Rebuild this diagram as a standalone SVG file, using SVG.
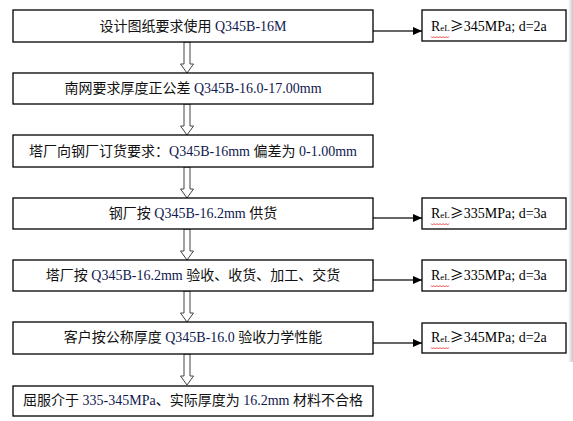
<svg xmlns="http://www.w3.org/2000/svg" width="573" height="421" viewBox="0 0 573 421">
<style>
.box{fill:#fff;stroke:#000;stroke-width:1.3}
.t{font-family:"Noto Sans CJK SC","Noto Sans",sans-serif;font-size:14px;fill:#111}
.l{font-family:"Liberation Serif","Times New Roman",serif;font-size:14px;fill:#10184e}
.r{font-family:"Liberation Serif","Times New Roman",serif;font-size:14px;fill:#000}
.ge{font-family:"Noto Sans CJK SC",sans-serif;font-size:14px}
.sub{font-size:9px}
.conn{stroke:#333;stroke-width:1.3;fill:none}
.hollow{fill:#fff;stroke:#444;stroke-width:1}
.wave{stroke:#e02020;stroke-width:0.8;fill:none}
</style>
<defs>
<marker id="ah" markerWidth="10" markerHeight="8" refX="9" refY="4" orient="auto" markerUnits="userSpaceOnUse">
<path d="M0,0 L9,4 L0,8 Z" fill="#000"/>
</marker>
<linearGradient id="sh" x1="0" x2="1" y1="0" y2="0">
<stop offset="0" stop-color="#fff"/>
<stop offset="1" stop-color="#c8c8c8"/>
</linearGradient>
<path id="dn" d="M-3,0 H3 V22 H6.5 L0,31 L-6.5,22 H-3 Z"/>
</defs>
<rect x="568" y="0" width="5" height="362" fill="url(#sh)"/>

<g id="connectors">
<use href="#dn" x="187" y="42" class="hollow"/>
<use href="#dn" x="187" y="104" class="hollow"/>
<use href="#dn" x="187" y="167" class="hollow"/>
<use href="#dn" x="187" y="229" class="hollow"/>
<use href="#dn" x="187" y="291" class="hollow"/>
<use href="#dn" x="187" y="354" class="hollow"/>
<line class="conn" x1="373" y1="31" x2="422" y2="31" marker-end="url(#ah)"/>
<line class="conn" x1="373" y1="218" x2="422" y2="218" marker-end="url(#ah)"/>
<line class="conn" x1="373" y1="280" x2="422" y2="280" marker-end="url(#ah)"/>
<line class="conn" x1="373" y1="343" x2="422" y2="343" marker-end="url(#ah)"/>
</g>

<g id="n1"><rect class="box" x="13" y="10" width="360" height="32"/>
<text class="t" x="193" y="31" text-anchor="middle">设计图纸要求使用<tspan class="l"> Q345B-16M</tspan></text></g>
<g id="n2"><rect class="box" x="13" y="73" width="360" height="31"/>
<text class="t" x="193" y="93" text-anchor="middle">南网要求厚度正公差<tspan class="l"> Q345B-16.0-17.00mm</tspan></text></g>
<g id="n3"><rect class="box" x="13" y="135" width="360" height="32"/>
<text class="t" x="193" y="156" text-anchor="middle">塔厂向钢厂订货要求：<tspan class="l">Q345B-16mm </tspan>偏差为<tspan class="l"> 0-1.00mm</tspan></text></g>
<g id="n4"><rect class="box" x="13" y="198" width="360" height="31"/>
<text class="t" x="193" y="218" text-anchor="middle">钢厂按<tspan class="l"> Q345B-16.2mm </tspan>供货</text></g>
<g id="n5"><rect class="box" x="13" y="260" width="360" height="31"/>
<text class="t" x="193" y="280" text-anchor="middle">塔厂按<tspan class="l"> Q345B-16.2mm </tspan>验收、收货、加工、交货</text></g>
<g id="n6"><rect class="box" x="13" y="322" width="360" height="32"/>
<text class="t" x="193" y="342" text-anchor="middle">客户按公称厚度<tspan class="l"> Q345B-16.0 </tspan>验收力学性能</text></g>
<g id="n7"><rect class="box" x="13" y="386" width="360" height="30"/>
<text class="t" x="193" y="405" text-anchor="middle">屈服介于<tspan class="l"> 335-345MPa</tspan>、实际厚度为<tspan class="l"> 16.2mm </tspan>材料不合格</text></g>

<g id="r1"><rect class="box" x="422" y="10" width="144" height="31"/>
<text class="r" x="431" y="31">R<tspan class="sub">eL</tspan><tspan class="ge">≥</tspan>345MPa; d=2a</text>
<path class="wave" d="M431,36.5 l1.5,1.5 l1.5,-1.5 l1.5,1.5 l1.5,-1.5 l1.5,1.5 l1.5,-1.5 l1.5,1.5 l1.5,-1.5 l1.5,1.5 l1.5,-1.5 l1.5,1.5 l1.5,-1.5"/></g>
<g id="r2"><rect class="box" x="422" y="198" width="144" height="31"/>
<text class="r" x="431" y="218">R<tspan class="sub">eL</tspan><tspan class="ge">≥</tspan>335MPa; d=3a</text>
<path class="wave" d="M431,223.5 l1.5,1.5 l1.5,-1.5 l1.5,1.5 l1.5,-1.5 l1.5,1.5 l1.5,-1.5 l1.5,1.5 l1.5,-1.5 l1.5,1.5 l1.5,-1.5 l1.5,1.5 l1.5,-1.5"/></g>
<g id="r3"><rect class="box" x="422" y="260" width="144" height="31"/>
<text class="r" x="431" y="280">R<tspan class="sub">eL</tspan><tspan class="ge">≥</tspan>335MPa; d=3a</text>
<path class="wave" d="M431,285.5 l1.5,1.5 l1.5,-1.5 l1.5,1.5 l1.5,-1.5 l1.5,1.5 l1.5,-1.5 l1.5,1.5 l1.5,-1.5 l1.5,1.5 l1.5,-1.5 l1.5,1.5 l1.5,-1.5"/></g>
<g id="r4"><rect class="box" x="422" y="323" width="144" height="30"/>
<text class="r" x="431" y="342">R<tspan class="sub">eL</tspan><tspan class="ge">≥</tspan>345MPa; d=2a</text>
<path class="wave" d="M431,347.5 l1.5,1.5 l1.5,-1.5 l1.5,1.5 l1.5,-1.5 l1.5,1.5 l1.5,-1.5 l1.5,1.5 l1.5,-1.5 l1.5,1.5 l1.5,-1.5 l1.5,1.5 l1.5,-1.5"/></g>
</svg>
